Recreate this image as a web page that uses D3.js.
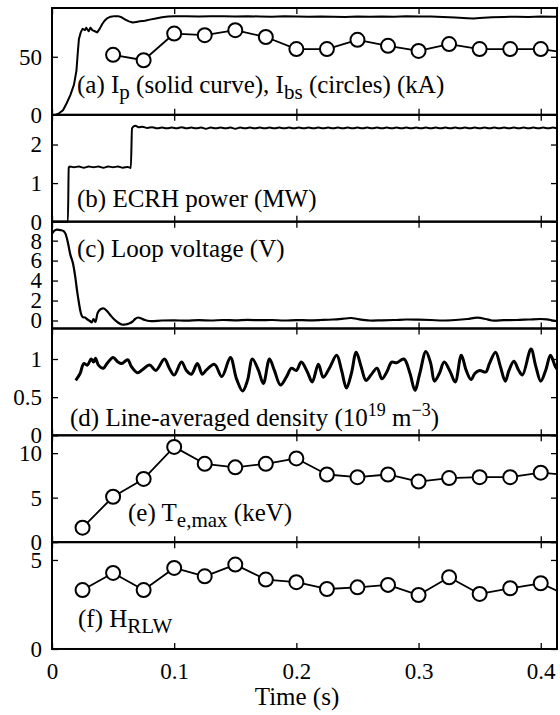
<!DOCTYPE html>
<html><head><meta charset="utf-8">
<style>body{margin:0;background:#fff}svg{display:block}</style>
<script src="https://cdn.jsdelivr.net/npm/d3@7"></script>
</head><body>
<svg id="c" width="560" height="715"></svg>
<script>
// ---------------- data ----------------
const xTicks = [0, 0.1, 0.2, 0.3, 0.4];
const xTickLabels = ["0", "0.1", "0.2", "0.3", "0.4"];

const ipTime = [0.003,0.006,0.009,0.012,0.015,0.018,0.020,0.021,0.022,0.0235,0.025,0.027,0.028,0.030,0.0315,0.033,0.035,0.037,0.039,0.041,0.043,0.045,0.048,0.051,0.054,0.057,0.060,0.063,0.066,0.069,0.072,0.076,0.080,0.085,0.090,0.095,0.100,0.11,0.12,0.13,0.14,0.15,0.16,0.17,0.18,0.19,0.20,0.21,0.22,0.23,0.24,0.25,0.26,0.27,0.28,0.29,0.30,0.31,0.32,0.33,0.34,0.345,0.35,0.36,0.37,0.38,0.39,0.40,0.41,0.42];
const ipValue = [0,1.5,4,10,17,26,38,52,65,71,74,73,75,72,75,73,72,71,74,78,81,83,84.5,85,85,84,82,80.5,79.5,80,80.5,81,82,83,84,84.6,85,85,84.7,85,84.8,84.6,84.9,84.7,84.5,84.8,84.6,84.4,84.7,84.5,84.3,84.6,84.4,84.7,84.5,84.8,84.6,84.7,84.3,83.8,83.2,83,83.4,84,84.3,84.5,84.2,84.6,84.4,84.7];

const ibsTime = [0.05,0.075,0.1,0.125,0.15,0.175,0.2,0.225,0.25,0.275,0.3,0.325,0.35,0.375,0.4,0.425];
const ibsValue = [51.7,47,70,68.6,72.9,67,56.6,56.6,64.6,59.4,55,60.9,56.6,56.6,56.6,53];

const ecrhTime = [0,0.0130,0.0137,0.0145,0.018,0.022,0.026,0.030,0.034,0.038,0.042,0.046,0.050,0.054,0.058,0.062,0.0645,0.0655,0.068,0.071,0.074,0.078,0.082,0.086,0.090,0.094,0.098,0.102,0.106,0.110,0.114,0.118,0.122,0.126,0.130,0.134,0.138,0.142,0.146,0.150,0.154,0.158,0.162,0.166,0.170,0.174,0.178,0.182,0.186,0.190,0.194,0.198,0.202,0.206,0.210,0.214,0.218,0.222,0.226,0.230,0.234,0.238,0.242,0.246,0.250,0.254,0.258,0.262,0.266,0.270,0.274,0.278,0.282,0.286,0.290,0.294,0.298,0.302,0.306,0.310,0.314,0.318,0.322,0.326,0.330,0.334,0.338,0.342,0.346,0.350,0.354,0.358,0.362,0.366,0.370,0.374,0.378,0.382,0.386,0.390,0.394,0.398,0.402,0.406,0.410,0.414,0.418];
const ecrhValue = [0,0,1.40,1.43,1.41,1.43,1.40,1.43,1.41,1.43,1.40,1.43,1.41,1.43,1.40,1.42,1.39,2.42,2.49,2.45,2.46,2.43,2.45,2.42,2.44,2.42,2.44,2.42,2.45,2.42,2.44,2.42,2.44,2.41,2.44,2.42,2.44,2.42,2.44,2.41,2.44,2.42,2.44,2.42,2.44,2.42,2.44,2.42,2.44,2.42,2.44,2.42,2.44,2.42,2.44,2.42,2.44,2.42,2.44,2.42,2.44,2.42,2.44,2.42,2.44,2.42,2.44,2.42,2.44,2.42,2.44,2.42,2.44,2.42,2.44,2.42,2.44,2.42,2.44,2.42,2.44,2.42,2.44,2.42,2.44,2.42,2.44,2.42,2.44,2.42,2.44,2.42,2.44,2.42,2.44,2.42,2.44,2.42,2.44,2.42,2.44,2.42,2.44,2.42,2.44,2.42,2.44];

const vloopTime = [0,0.002,0.004,0.007,0.0095,0.011,0.013,0.015,0.017,0.019,0.0205,0.022,0.0235,0.025,0.027,0.029,0.031,0.0325,0.034,0.0355,0.0375,0.040,0.0425,0.045,0.048,0.051,0.054,0.057,0.060,0.063,0.066,0.068,0.0705,0.073,0.076,0.080,0.09,0.10,0.11,0.12,0.13,0.14,0.15,0.16,0.17,0.18,0.19,0.20,0.21,0.22,0.23,0.24,0.245,0.25,0.26,0.27,0.28,0.29,0.30,0.31,0.32,0.33,0.34,0.348,0.355,0.36,0.37,0.38,0.39,0.40,0.405,0.41,0.415,0.42];
const vloopValue = [8.7,9.0,9.1,9.05,8.95,8.7,7.8,6.6,5.8,4.4,3.0,1.8,0.8,0.35,0.3,0.1,-0.05,-0.2,0.15,-0.15,0.8,1.15,1.2,0.95,0.5,0.1,-0.2,-0.4,-0.4,-0.3,-0.1,0.15,0.3,0.2,0.05,-0.05,0.0,0.02,-0.02,0.03,0.0,0.05,0.02,0.06,0.03,0.05,0.0,0.04,0.02,0.05,0.1,0.2,0.25,0.15,0.0,0.02,0.05,0.1,0.08,0.05,0.0,0.05,0.15,0.28,0.15,0.0,0.03,0.05,0.1,0.15,0.12,0.0,-0.1,-0.15];

const densTime = [0.0194,0.023,0.026,0.029,0.032,0.034,0.0356,0.038,0.042,0.045,0.050,0.054,0.057,0.062,0.065,0.070,0.074,0.080,0.085,0.092,0.096,0.100,0.106,0.110,0.114,0.119,0.123,0.126,0.133,0.139,0.146,0.151,0.156,0.160,0.164,0.169,0.173,0.178,0.182,0.187,0.192,0.196,0.200,0.204,0.209,0.213,0.218,0.222,0.227,0.233,0.237,0.241,0.245,0.249,0.253,0.257,0.261,0.266,0.270,0.274,0.278,0.282,0.288,0.293,0.297,0.301,0.306,0.310,0.313,0.317,0.321,0.326,0.330,0.335,0.339,0.343,0.346,0.350,0.355,0.358,0.363,0.367,0.371,0.374,0.378,0.382,0.385,0.392,0.396,0.400,0.404,0.408,0.412,0.4156,0.418];
const densValue = [0.72,0.81,0.94,0.92,1.0,0.96,1.01,0.92,0.88,0.94,1.02,0.96,0.94,0.99,0.90,0.82,0.86,0.92,0.85,1.0,0.88,0.79,0.96,0.85,0.80,0.94,0.80,0.85,0.93,0.77,1.02,0.74,0.58,0.72,1.0,0.85,0.68,1.0,0.85,0.66,0.77,0.88,0.85,0.96,0.83,0.70,0.93,0.76,0.88,1.05,0.85,0.62,0.81,1.09,0.90,0.72,0.79,0.88,0.74,0.83,0.96,0.95,1.0,0.81,0.59,0.81,1.10,0.94,0.71,0.81,0.96,0.83,0.70,1.05,0.85,0.73,0.81,0.85,0.83,0.94,1.09,0.90,0.71,0.85,0.97,0.85,0.79,1.13,0.90,0.71,0.85,1.05,0.90,0.83,1.03];

const sampleTime = [0.025,0.05,0.075,0.1,0.125,0.15,0.175,0.2,0.225,0.25,0.275,0.3,0.325,0.35,0.375,0.4,0.425];
const teValue = [1.63,5.1,7.1,10.7,8.8,8.4,8.8,9.4,7.6,7.3,7.6,6.8,7.2,7.3,7.3,7.8,7.5];
const hValue = [3.31,4.27,3.31,4.55,4.08,4.74,3.9,3.75,3.37,3.46,3.6,3.03,4.03,3.09,3.41,3.69,2.9];

// ---------------- layout ----------------
const FONT = '"Liberation Serif"';
const svg = d3.select("#c");
const L = 52, R = 557, TOP = 8, PH = 106.83;
const x = d3.scaleLinear().domain([0, 0.4133]).range([L, R]);

const panels = [
  {domain:[0,92], ticks:[0,50]},
  {domain:[0,2.77], ticks:[0,1,2]},
  {domain:[-0.8,9.9], ticks:[0,2,4,6,8]},
  {domain:[0,1.4], ticks:[0,0.5,1]},
  {domain:[0,12], ticks:[0,5,10]},
  {domain:[0,6], ticks:[0,5]}
];

svg.append("defs").append("clipPath").attr("id","clip")
  .append("rect").attr("x",L).attr("y",0).attr("width",R-L).attr("height",715);

panels.forEach((p,i)=>{
  const t = TOP + i*PH, b = t + PH;
  p.y = d3.scaleLinear().domain(p.domain).range([b,t]);
  p.top = t; p.bottom = b;
});

function styleAxis(g, labels){
  g.attr("font-family", null).attr("font-size", null);
  g.select(".domain").remove();
  g.selectAll(".tick line").attr("stroke","#000").attr("stroke-width",1.3);
  g.selectAll(".tick text").attr("fill","#000").style("font-size","23px");
  if(!labels) g.selectAll(".tick text").remove();
}

panels.forEach((p,i)=>{
  const fmt = d => (d===0.5?"0.5":String(d));
  svg.append("g").attr("transform",`translate(${L},0)`)
    .call(d3.axisLeft(p.y).tickValues(p.ticks).tickSize(-6).tickPadding(10).tickFormat(fmt))
    .call(g=>styleAxis(g,true));
  svg.append("g").attr("transform",`translate(${R},0)`)
    .call(d3.axisRight(p.y).tickValues(p.ticks).tickSize(-6))
    .call(g=>styleAxis(g,false));
  svg.append("g").attr("transform",`translate(0,${p.top})`)
    .call(d3.axisTop(x).tickValues(xTicks).tickSize(-6))
    .call(g=>styleAxis(g,false));
  const last = i===panels.length-1;
  svg.append("g").attr("transform",`translate(0,${p.bottom})`)
    .call(d3.axisBottom(x).tickValues(xTicks).tickSize(-6).tickPadding(14).tickFormat((d,k)=>xTickLabels[k]))
    .call(g=>styleAxis(g,last));
});

const plot = svg.append("g").attr("clip-path","url(#clip)");

function drawLine(xs, ys, yScale, width, curve){
  const pts = xs.map((t,k)=>[t, ys[k]]);
  plot.append("path").datum(pts)
    .attr("fill","none").attr("stroke","#000").attr("stroke-width",width)
    .attr("stroke-linejoin","round")
    .attr("d", d3.line().x(d=>x(d[0])).y(d=>yScale(d[1])).curve(curve||d3.curveLinear));
}
function drawCircles(xs, ys, yScale){
  const pts = xs.map((t,k)=>[t, ys[k]]);
  plot.append("g").selectAll("circle").data(pts).join("circle")
    .attr("cx",d=>x(d[0])).attr("cy",d=>yScale(d[1])).attr("r",7)
    .attr("fill","#fff").attr("stroke","#000").attr("stroke-width",2);
}

// (a)
drawLine(ipTime, ipValue, panels[0].y, 2);
drawLine(ibsTime, ibsValue, panels[0].y, 1.8);
drawCircles(ibsTime, ibsValue, panels[0].y);
// (b)
drawLine(ecrhTime, ecrhValue, panels[1].y, 2, d3.curveMonotoneX);
// (c)
drawLine(vloopTime, vloopValue, panels[2].y, 2.2, d3.curveCatmullRom);
// (d)
drawLine(densTime, densValue, panels[3].y, 3, d3.curveCatmullRom);
// (e)
drawLine(sampleTime, teValue, panels[4].y, 1.8);
drawCircles(sampleTime, teValue, panels[4].y);
// (f)
drawLine(sampleTime, hValue, panels[5].y, 1.8);
drawCircles(sampleTime, hValue, panels[5].y);

// frames
panels.forEach(p=>{
  svg.append("rect").attr("x",L).attr("y",p.top).attr("width",R-L).attr("height",PH)
    .attr("fill","none").attr("stroke","#000").attr("stroke-width",2);
});

// panel labels
function label(xp, yp, parts){
  const t = svg.append("text").attr("x",xp).attr("y",yp)
    .style("font-size","25px").attr("fill","#000");
  parts.forEach(([s,kind])=>{
    const ts = t.append("tspan").text(s);
    if(kind==="sub") ts.style("font-size","21px").attr("dy","6");
    else if(kind==="sup") ts.style("font-size","18px").attr("dy","-10");
    else if(kind==="subEnd") ts.attr("dy","-6");
    else if(kind==="supEnd") ts.attr("dy","10");
  });
}
label(77, 93, [["(a) I",""],["p","sub"],[" (solid curve), I","subEnd"],["bs","sub"],[" (circles) (kA)","subEnd"]]);
label(77, 207, [["(b) ECRH power (MW)",""]]);
label(77, 257, [["(c) Loop voltage (V)",""]]);
label(70, 426, [["(d) Line-averaged density (10",""],["19","sup"],[" m","supEnd"],["−3","sup"],[")","supEnd"]]);
label(128, 521, [["(e) T",""],["e,max","sub"],[" (keV)","subEnd"]]);
label(78, 627, [["(f) H",""],["RLW","sub"]]);

svg.append("text").attr("x",297).attr("y",705).attr("text-anchor","middle")
  .style("font-size","25px").attr("fill","#000").text("Time (s)");

// force the serif family on every text node
svg.selectAll("text, tspan").each(function(){
  this.style.setProperty("font-family", FONT, "important");
});
</script>
</body></html>
